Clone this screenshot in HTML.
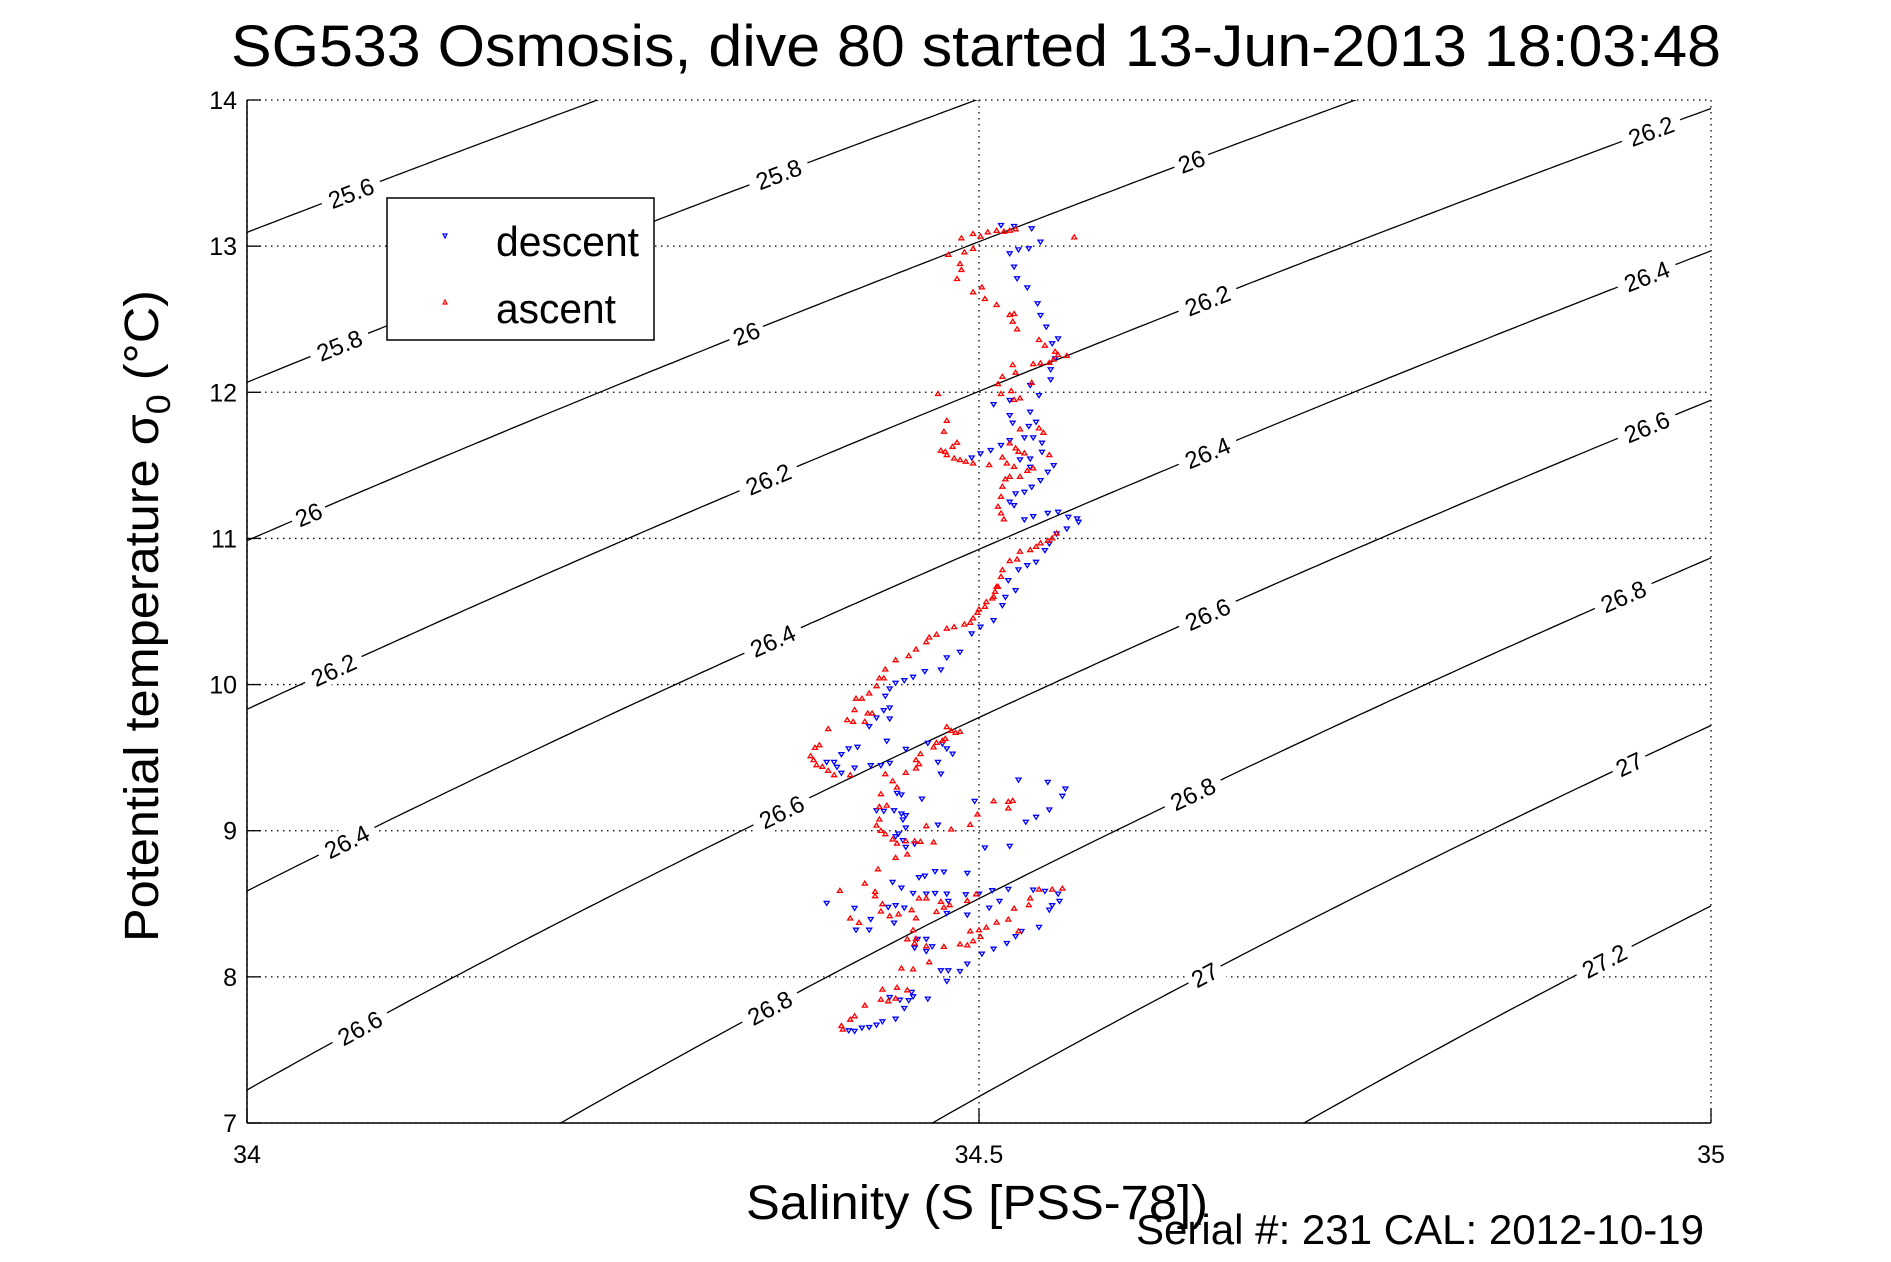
<!DOCTYPE html>
<html><head><meta charset="utf-8"><style>
html,body{margin:0;padding:0;background:#fff;overflow:hidden;width:1891px;height:1262px;}
svg{display:block;font-family:"Liberation Sans",Arial,sans-serif;}
</style></head><body>
<svg id="chart" width="1891" height="1262" viewBox="0 0 1891 1262" xmlns="http://www.w3.org/2000/svg">
<rect x="0" y="0" width="1891" height="1262" fill="#fff"/>
<defs><clipPath id="pc"><rect x="247" y="100" width="1464" height="1023"/></clipPath></defs>
<text x="231" y="66" font-size="58" textLength="1490" lengthAdjust="spacingAndGlyphs">SG533 Osmosis, dive 80 started 13-Jun-2013 18:03:48</text>
<g id="grid"></g>
<g id="contours" clip-path="url(#pc)"></g>
<g id="clabels"></g>
<g id="pts"></g>
<g id="axes"></g>
<text transform="translate(158,942) rotate(-90)" font-size="48" textLength="652" lengthAdjust="spacingAndGlyphs">Potential temperature σ<tspan font-size="34" dy="12">0</tspan><tspan dy="-12"> (°C)</tspan></text>
<text x="746" y="1219" font-size="48" textLength="462" lengthAdjust="spacingAndGlyphs">Salinity (S [PSS-78])</text>
<text x="1136" y="1244" font-size="42" textLength="568" lengthAdjust="spacingAndGlyphs">Serial #: 231  CAL: 2012-10-19</text>
<g>
<rect x="387" y="198" width="267" height="142" fill="#fff" stroke="#000" stroke-width="1.5"/>
<path d="M443,234 L447,234 L445,238 Z" fill="none" stroke="#00f" stroke-width="1.2"/>
<text x="496" y="256" font-size="42" textLength="143" lengthAdjust="spacingAndGlyphs">descent</text>
<path d="M443,304 L447,304 L445,300 Z" fill="none" stroke="#f00" stroke-width="1.2"/>
<text x="496" y="323" font-size="42" textLength="120" lengthAdjust="spacingAndGlyphs">ascent</text>
</g>
</svg>
<script>
const xTicks=[34,34.5,35];
const xTickLabels=["34","34.5","35"];
const yTicks=[7,8,9,10,11,12,13,14];
const yTickLabels=["7","8","9","10","11","12","13","14"];
const levels=[25.6,25.8,26,26.2,26.4,26.6,26.8,27,27.2];
const labelLevels=[25.6,25.8,26,26.2,25.8,26,26.2,26.4,26,26.2,26.4,26.6,26.2,26.4,26.6,26.8,26.4,26.6,26.8,27,26.6,26.8,27,27.2];
const labelSal=[34.071,34.363,34.645,34.959,34.063,34.341,34.656,34.956,34.042,34.356,34.656,34.956,34.059,34.359,34.656,34.94,34.068,34.365,34.646,34.944,34.077,34.357,34.654,34.927];
const descS=[34.515,34.524,34.536,34.542,34.534,34.527,34.521,34.524,34.526,34.533,34.540,34.542,34.546,34.554,34.550,34.552,34.549,34.549,34.535,34.541,34.521,34.510,34.521,34.535,34.539,34.523,34.534,34.531,34.521,34.537,34.543,34.543,34.535,34.528,34.508,34.501,34.495,34.515,34.535,34.551,34.547,34.542,34.536,34.531,34.525,34.521,34.524,34.531,34.537,34.547,34.554,34.561,34.567,34.568,34.560,34.553,34.548,34.545,34.539,34.533,34.527,34.520,34.525,34.518,
34.516,34.510,34.501,34.495,34.487,34.478,34.474,34.463,34.455,34.449,34.443,34.439,34.436,34.439,34.435,34.430,34.425,34.439,34.437,34.417,34.411,34.406,34.401,34.396,34.403,34.406,34.415,34.426,34.433,34.439,34.450,34.465,34.475,34.478,34.482,34.472,34.474,34.444,34.447,34.461,34.442,34.430,34.435,34.447,34.450,34.448,34.450,34.445,34.443,34.448,34.450,34.456,34.472,34.497,34.527,34.547,34.559,34.557,34.548,34.539,34.532,34.521,34.504,34.492,34.476,34.470,34.463,34.459,34.441,34.447,34.455,34.464,34.470,34.478,34.479,34.478,34.491,34.500,34.509,34.520,34.537,34.545,34.554,34.555,34.550,34.548,34.541,34.529,34.525,34.519,34.510,34.502,34.492,34.507,34.514,34.438,34.443,34.449,34.415,34.426,34.442,34.425,34.416,34.396,34.456,34.458,34.464,34.468,34.464,34.474,34.479,34.487,34.492,34.478,34.465,34.454,34.452,34.446,34.439,34.449,34.455,34.443,34.434,34.430,34.425,34.420,34.415,34.411];
const descT=[13.145,13.138,13.122,13.031,12.985,12.978,12.951,12.86,12.78,12.718,12.609,12.529,12.449,12.369,12.335,12.232,12.157,12.088,12.05,11.981,11.947,11.919,11.844,11.867,11.798,11.792,11.769,11.691,11.673,11.691,11.655,11.593,11.547,11.541,11.605,11.582,11.554,11.639,11.49,11.502,11.456,11.399,11.353,11.319,11.308,11.251,11.228,11.13,11.153,11.175,11.182,11.148,11.137,11.114,11.068,11.034,10.966,10.92,10.84,10.817,10.788,10.715,10.646,10.60,
10.544,10.441,10.396,10.35,10.224,10.186,10.103,10.092,10.053,10.03,10.012,9.973,9.923,9.843,9.825,9.775,9.715,9.768,9.615,9.574,9.563,9.524,9.471,9.471,9.437,9.396,9.432,9.448,9.448,9.464,9.56,9.601,9.597,9.563,9.528,9.471,9.391,9.259,9.248,9.22,9.14,9.14,9.136,9.118,9.106,9.077,9.022,8.981,8.962,8.935,8.889,8.912,9.042,9.204,9.35,9.334,9.289,9.239,9.145,9.095,9.061,8.896,8.885,8.711,8.72,8.723,8.693,8.682,8.65,8.611,8.574,8.57,8.574,8.57,8.52,8.437,8.565,8.57,8.593,8.602,8.597,8.588,8.57,8.52,8.49,8.46,8.342,8.314,8.278,8.232,8.193,8.159,8.426,8.474,8.52,8.479,8.49,8.474,8.472,8.396,8.371,8.323,8.323,8.506,8.2,8.26,8.26,8.209,8.177,8.045,8.045,8.04,8.091,7.972,7.851,7.897,7.84,7.844,7.862,7.787,7.867,7.714,7.696,7.673,7.657,7.653,7.63,7.634];
const ascS=[34.407,34.406,34.412,34.415,34.422,34.433,34.438,34.443,34.434,34.444,34.451,34.447,34.455,34.466,34.456,34.451,34.457,34.464,34.476,34.487,34.492,34.496,34.501,34.500,34.494,34.505,34.512,34.520,34.527,34.524,34.534,34.535,34.541,34.550,34.557,34.455,34.457,34.439,34.433,34.445,34.454,34.412,34.418,34.405,34.422,34.429,34.429,34.434,34.459,34.464,34.471,34.476,34.480,34.474,34.492,34.498,34.431,34.443,34.451,34.460,34.469,34.456,34.450,34.444,34.441,34.436,34.433,34.430,34.432,34.432,34.437,34.444,34.441,34.433,34.436,34.450,34.457,34.459,34.457,34.460,34.469,34.471,34.475,34.477,34.478,34.481,34.484,34.487,34.464,34.481,34.494,34.499,34.510,34.520,34.523,34.520,34.412,34.401,34.397,34.393,34.389,34.387,34.385,34.388,34.391,34.397,34.414,34.410,34.415,34.422,34.424,34.427,34.430,34.425,34.420,34.416,34.432,34.435,34.436,34.443,34.452,34.457,34.464,34.466,34.471,34.478,34.483,34.490,34.494,34.496,34.499,34.500,34.504,34.505,34.510,34.511,34.513,
34.509,34.512,34.515,34.516,34.521,34.526,34.528,34.535,34.539,34.542,34.547,34.550,34.553,34.517,34.515,34.513,34.515,34.516,34.518,34.521,34.528,34.533,34.537,34.524,34.519,34.527,34.531,34.525,34.521,34.485,34.482,34.477,34.474,34.478,34.483,34.487,34.491,34.496,34.507,34.516,34.548,34.544,34.541,34.528,34.524,34.528,34.522,34.515,34.516,34.513,34.523,34.525,34.537,34.542,34.548,34.551,34.554,34.560,34.552,34.545,34.541,34.536,34.472,34.478,34.476,34.526,34.523,34.521,34.524,34.512,34.504,34.496,34.502,34.485,34.488,34.487,34.479,34.490,34.496,34.488,34.496,34.501,34.506,34.512,34.517,34.521,34.525,34.565];
const ascT=[7.639,7.664,7.707,7.73,7.803,7.844,7.833,7.851,7.913,7.926,7.908,8.057,8.052,8.1,8.228,8.257,8.26,8.209,8.205,8.223,8.216,8.244,8.273,8.319,8.312,8.337,8.371,8.392,8.312,8.467,8.49,8.536,8.597,8.597,8.604,8.319,8.401,8.415,8.447,8.428,8.456,8.399,8.369,8.588,8.638,8.581,8.552,8.497,8.536,8.536,8.444,8.474,8.49,8.513,8.52,8.565,8.736,8.814,8.837,8.924,8.921,8.928,8.928,8.912,8.94,8.976,8.999,9.035,9.077,9.163,9.172,9.296,9.339,9.25,9.387,9.396,9.426,9.455,9.483,9.524,9.57,9.601,9.615,9.629,9.709,9.683,9.67,9.677,9.031,9.008,9.04,9.111,9.202,9.197,9.204,9.152,9.38,9.38,9.41,9.437,9.448,9.483,9.51,9.567,9.585,9.695,9.745,9.757,9.825,9.745,9.802,9.802,9.989,9.939,9.903,9.903,10.042,10.042,10.103,10.167,10.195,10.24,10.29,10.322,10.341,10.382,10.393,10.411,10.423,10.453,10.491,10.514,10.532,10.564,10.601,10.635,10.669,
10.589,10.669,10.737,10.783,10.845,10.856,10.909,10.92,10.943,10.966,10.984,11.0,11.034,11.13,11.171,11.217,11.285,11.354,11.404,11.422,11.422,11.463,11.479,11.49,11.513,11.593,11.582,11.616,11.65,11.655,11.627,11.593,11.6,11.57,11.547,11.536,11.525,11.513,11.502,11.554,11.57,11.723,11.753,11.746,11.947,11.958,12.008,11.988,12.106,12.056,12.186,12.134,12.193,12.198,12.202,12.225,12.255,12.248,12.278,12.319,12.358,12.065,11.988,11.805,11.73,12.431,12.483,12.529,12.536,12.597,12.638,12.684,12.718,12.775,12.837,12.878,12.94,12.958,12.981,13.054,13.083,13.065,13.095,13.104,13.099,13.106,13.115,13.06];

const NS="http://www.w3.org/2000/svg";
const X0=247,X1=1711,Y0=100,Y1=1123;
const sx=s=>X0+(s-34)/(35-34)*(X1-X0);
const sy=t=>Y1-(t-7)/(14-7)*(Y1-Y0);
function mk(tag,attrs,parent){const e=document.createElementNS(NS,tag);for(const k in attrs)e.setAttribute(k,attrs[k]);parent.appendChild(e);return e;}
function sigma0(S,T){
  const rw=999.842594+6.793952e-2*T-9.095290e-3*T*T+1.001685e-4*T**3-1.120083e-6*T**4+6.536332e-9*T**5;
  const A=8.24493e-1-4.0899e-3*T+7.6438e-5*T*T-8.2467e-7*T**3+5.3875e-9*T**4;
  const B=-5.72466e-3+1.0227e-4*T-1.6546e-6*T*T;
  return rw+A*S+B*Math.pow(S,1.5)+4.8314e-4*S*S-1000;
}
function tAt(S,lev){let lo=-2,hi=35;for(let i=0;i<50;i++){const m=(lo+hi)/2;if(sigma0(S,m)>lev)lo=m;else hi=m;}return (lo+hi)/2;}

const grid=document.getElementById('grid');
yTicks.forEach(t=>{const l=mk('line',{x1:X0,x2:X1,y1:sy(t),y2:sy(t),stroke:'#000','stroke-width':1.3,'stroke-dasharray':'1.5 4.5'},grid);

});
xTicks.forEach(s=>{const l=mk('line',{x1:sx(s),x2:sx(s),y1:Y0,y2:Y1,stroke:'#000','stroke-width':1.3,'stroke-dasharray':'1.5 4.5'},grid);

});

const cg=document.getElementById('contours');
levels.forEach(lev=>{let d='';for(let i=0;i<=200;i++){const S=34+i/200;d+=(i?'L':'M')+sx(S).toFixed(1)+','+sy(tAt(S,lev)).toFixed(1);}
const p=mk('path',{d:d,fill:'none',stroke:'#000','stroke-width':1.3},cg);

});

const lg=document.getElementById('clabels');
labelLevels.forEach((lev,i)=>{const S=labelSal[i];const x=sx(S),y=sy(tAt(S,lev));
const x2=sx(S+0.01),y2=sy(tAt(S+0.01,lev));const ang=Math.atan2(y2-y,x2-x)*180/Math.PI;
const g=mk('g',{transform:`translate(${x.toFixed(1)},${y.toFixed(1)}) rotate(${ang.toFixed(1)})`},lg);


const txt=String(lev);const w=txt.length*13+10;
mk('rect',{x:-w/2,y:-13,width:w,height:26,fill:'#fff'},g);
const t=mk('text',{x:0,y:9,'font-size':24,'text-anchor':'middle'},g);t.textContent=txt;});

const pg=document.getElementById('pts');
descS.forEach((s,i)=>{const x=sx(s),y=sy(descT[i]);
const p=mk('path',{d:`M${(x-2.5).toFixed(1)},${(y-1.5).toFixed(1)}h5l-2.5,4z`,fill:'none',stroke:'#00f','stroke-width':1.3},pg);

});
ascS.forEach((s,i)=>{const x=sx(s),y=sy(ascT[i]);
const p=mk('path',{d:`M${(x-2.5).toFixed(1)},${(y+1.5).toFixed(1)}h5l-2.5,-4z`,fill:'none',stroke:'#f00','stroke-width':1.3},pg);

});

const ax=document.getElementById('axes');
const la=mk('line',{x1:X0,x2:X0,y1:Y0,y2:Y1,stroke:'#000','stroke-width':1.5},ax);


const ba=mk('line',{x1:X0,x2:X1,y1:Y1,y2:Y1,stroke:'#000','stroke-width':1.5},ax);


yTicks.forEach((t,i)=>{mk('line',{x1:X0,x2:X0+14,y1:sy(t),y2:sy(t),stroke:'#000','stroke-width':1.3},ax);
const tx=mk('text',{x:X0-10,y:sy(t)+9,'font-size':25,'text-anchor':'end'},ax);tx.textContent=yTickLabels[i];

});
xTicks.forEach((s,i)=>{mk('line',{x1:sx(s),x2:sx(s),y1:Y1,y2:Y1-14,stroke:'#000','stroke-width':1.3},ax);
const tx=mk('text',{x:sx(s),y:Y1+40,'font-size':25,'text-anchor':'middle'},ax);tx.textContent=xTickLabels[i];

});
</script>
</body></html>
